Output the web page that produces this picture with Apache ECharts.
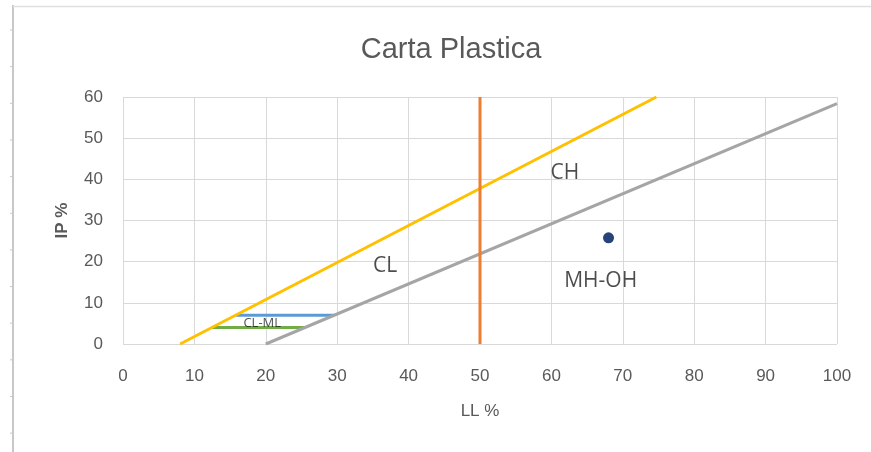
<!DOCTYPE html>
<html>
<head>
<meta charset="utf-8">
<script src="https://cdn.jsdelivr.net/npm/echarts@6/dist/echarts.min.js"></script>
<style>
  html, body { margin: 0; padding: 0; background: #fff; }
  #chart { width: 871px; height: 452px; }
</style>
</head>
<body>
<div id="chart"></div>
<script>
// Casagrande plasticity chart: liquid limit (LL) vs plasticity index (IP)
const titleText = 'Carta Plastica';
const xName = 'LL %';
const yName = 'IP %';

// U-line, A-line and the LL = 50 boundary
const uLine = [[8, 0], [74.7, 60]];
const aLine = [[20, 0], [100, 58.4]];
const llLimit = [[50, 0], [50, 60]];
// CL-ML band limits (IP = 7 and IP = 4)
const band7 = [[15.8, 7], [29.6, 7]];
const band4 = [[12.4, 4], [25.5, 4]];
// Sample
const sample = [[68, 25.8]];
// Zone labels
const zoneLabels = [
  { name: 'CH', value: [61.9, 41.6] },
  { name: 'CL', value: [36.7, 19.0] },
  { name: 'MH-OH', value: [66.9, 15.3] }
];
const smallZone = [{ name: 'CL-ML', value: [19.5, 5.1] }];

const FONT = '"Liberation Sans Narrow", "Liberation Sans", sans-serif';
const LFONT = '"Open Sans", "Noto Sans", sans-serif';
const GRAY = '#595959';

function seg(data, color) {
  return {
    type: 'line', data: data, symbol: 'none', silent: true,
    lineStyle: { color: color, width: 3 }, z: 3
  };
}

// spreadsheet frame ticks on the left edge
const frameTicks = [];
for (let i = 0; i < 12; i++) {
  const y = 30 + i * 36.65;
  frameTicks.push({ type: 'line', shape: { x1: 10, y1: y, x2: 13, y2: y },
    style: { stroke: '#c8c8c8', lineWidth: 1 } });
}

const chart = echarts.init(document.getElementById('chart'));
chart.setOption({
  animation: false,
  backgroundColor: '#fff',
  title: {
    text: titleText, left: 446, top: 30, textAlign: 'center',
    textStyle: { fontFamily: FONT, fontSize: 29, fontWeight: 'normal', color: GRAY }
  },
  grid: { left: 123, right: 34, top: 97, bottom: 108 },
  xAxis: {
    type: 'value', min: 0, max: 100, interval: 10,
    name: xName, nameLocation: 'middle', nameGap: 59,
    nameTextStyle: { fontFamily: FONT, fontSize: 17, color: GRAY },
    axisLine: { show: false }, axisTick: { show: false },
    axisLabel: { fontFamily: FONT, fontSize: 17, color: GRAY, margin: 24 },
    splitLine: { show: true, lineStyle: { color: '#d9d9d9', width: 1 } }
  },
  yAxis: {
    type: 'value', min: 0, max: 60, interval: 10,
    name: yName, nameLocation: 'middle', nameGap: 52, nameRotate: 90,
    nameTextStyle: { fontFamily: FONT, fontSize: 17, color: GRAY, fontWeight: 'bold' },
    axisLine: { show: false }, axisTick: { show: false },
    axisLabel: { fontFamily: FONT, fontSize: 17, color: GRAY, margin: 20 },
    splitLine: { show: true, lineStyle: { color: '#d9d9d9', width: 1 } }
  },
  graphic: [
    { type: 'line', shape: { x1: 13, y1: 5, x2: 13, y2: 452 },
      style: { stroke: '#c8c8c8', lineWidth: 2 } },
    { type: 'line', shape: { x1: 13, y1: 6.5, x2: 871, y2: 6.5 },
      style: { stroke: '#e0e0e0', lineWidth: 1.5 } }
  ].concat(frameTicks),
  series: [
    seg(band7, '#5b9bd5'),
    seg(band4, '#70ad47'),
    seg(uLine, '#ffc000'),
    seg(aLine, '#a5a5a5'),
    seg(llLimit, '#ed7d31'),
    {
      type: 'scatter', data: sample, symbol: 'circle', symbolSize: 11,
      itemStyle: { color: '#264478', opacity: 1 }, z: 5
    },
    {
      type: 'scatter', data: zoneLabels, symbolSize: 0, silent: true,
      label: { show: true, position: 'inside', formatter: '{b}',
        fontFamily: LFONT, fontSize: 21, color: '#1f1f1f' }
    },
    {
      type: 'scatter', data: smallZone, symbolSize: 0, silent: true, z: 6,
      label: { show: true, position: 'inside', formatter: '{b}',
        fontFamily: LFONT, fontSize: 13, color: '#1f1f1f' }
    }
  ]
});
</script>
</body>
</html>
